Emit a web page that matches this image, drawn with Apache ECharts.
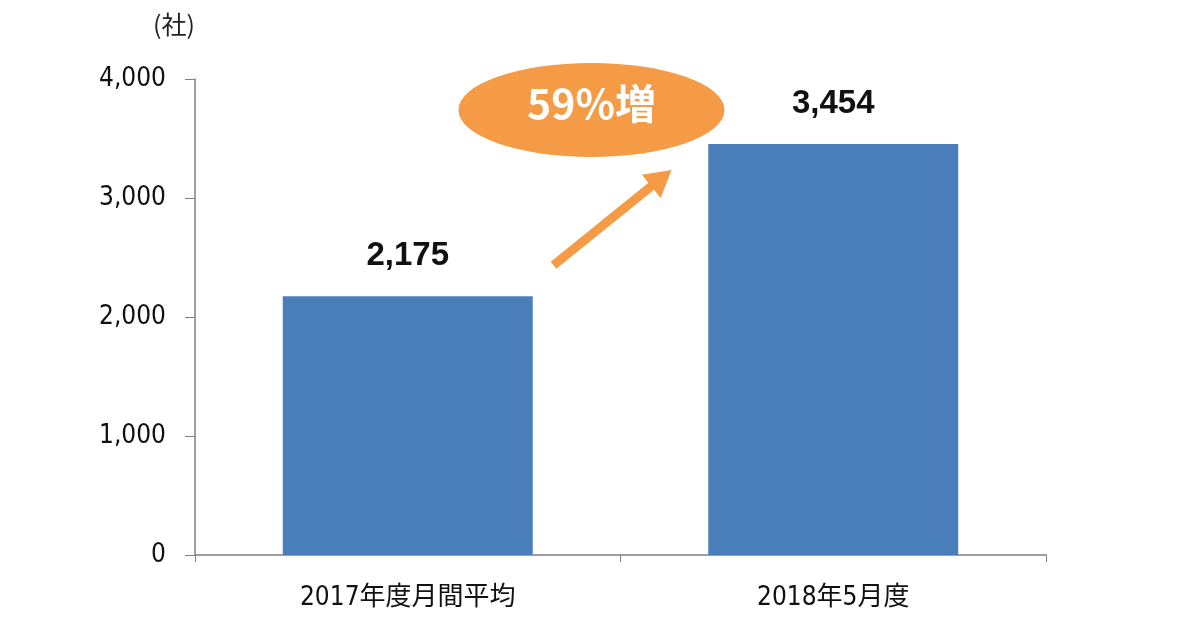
<!DOCTYPE html>
<html><head><meta charset="utf-8">
<script src="https://cdn.jsdelivr.net/npm/echarts@6/dist/echarts.min.js"></script>
<style>html,body{margin:0;padding:0;background:#fff}#c{width:1200px;height:630px}</style>
</head><body><div id="c"></div>
<script>
const categories = ['2017年度月間平均', '2018年5月度'];
const companies = [2175, 3454];
const yTicks = [0, 1000, 2000, 3000, 4000];
const unitLabel = '(社)';
const increaseText = '59%増';

const NARROW = '"Liberation Sans Narrow", "DejaVu Sans Condensed", "Noto Sans CJK JP", sans-serif';
const FONT = '"Liberation Sans", "Noto Sans CJK JP", sans-serif';
const chart = echarts.init(document.getElementById('c'));
const orange = '#F59A45';
chart.setOption({
  animation: false,
  grid: { left: 195, right: 154, top: 79, bottom: 75 },
  xAxis: {
    type: 'category', data: categories,
    axisLine: { lineStyle: { color: '#808080', width: 1.5 } },
    axisTick: { show: true, length: 7, lineStyle: { color: '#808080' } },
    axisLabel: { fontSize: 26, color: '#111', fontFamily: NARROW, margin: 30 }
  },
  yAxis: {
    type: 'value', min: yTicks[0], max: yTicks[yTicks.length - 1], interval: 1000,
    name: unitLabel, nameLocation: 'end', nameGap: 42,
    nameTextStyle: { fontSize: 25, color: '#222', fontFamily: '"Noto Sans CJK JP", sans-serif', align: 'right', padding: [0, 0, 0, 0] },
    axisLine: { show: true, lineStyle: { color: '#808080', width: 1.5 } },
    axisTick: { show: true, length: 10, lineStyle: { color: '#808080' } },
    splitLine: { show: false },
    axisLabel: {
      fontSize: 26, color: '#111', fontFamily: NARROW, margin: 29,
      formatter: v => v.toLocaleString('en-US')
    }
  },
  series: [{
    type: 'bar', data: companies, barWidth: 250,
    itemStyle: { color: '#4A7EBB' },
    label: {
      show: true, position: 'top', distance: 24,
      fontSize: 33, fontWeight: 'bold', color: '#111', fontFamily: FONT,
      formatter: p => p.value.toLocaleString('en-US')
    }
  }]
});

// annotation placed relative to the axes
const p1 = chart.convertToPixel({ seriesIndex: 0 }, [0, companies[0]]);
const p2 = chart.convertToPixel({ seriesIndex: 0 }, [1, companies[1]]);
const midX = (p1[0] + p2[0]) / 2;
const x0 = midX - 67, y0 = p1[1] - 31;
const x1 = midX + 51, y1 = p2[1] + 26;
const dx = x1 - x0, dy = y1 - y0, L = Math.hypot(dx, dy);
const ux = dx / L, uy = dy / L, nx = -uy, ny = ux;
const headLen = 26, headW = 15;
const bx = x1 - ux * headLen, by = y1 - uy * headLen;
const ecx = midX - 29, ecy = p2[1] - 34;
chart.setOption({
  graphic: [
    { type: 'line', shape: { x1: x0, y1: y0, x2: bx + ux * 2, y2: by + uy * 2 },
      style: { stroke: orange, lineWidth: 9 } },
    { type: 'polygon', shape: { points: [[x1, y1], [bx + nx * headW, by + ny * headW], [bx - nx * headW, by - ny * headW]] },
      style: { fill: orange } },
    { type: 'circle', shape: { cx: 0, cy: 0, r: 47 }, x: ecx, y: ecy, scaleX: 133 / 47,
      style: { fill: orange } },
    { type: 'text', x: ecx, y: ecy - 7,
      style: { text: increaseText, fill: '#fff', fontSize: 41, fontWeight: 'bold', fontFamily: '"Noto Sans CJK JP", sans-serif',
        textAlign: 'center', textVerticalAlign: 'middle' } }
  ]
});
</script></body></html>
